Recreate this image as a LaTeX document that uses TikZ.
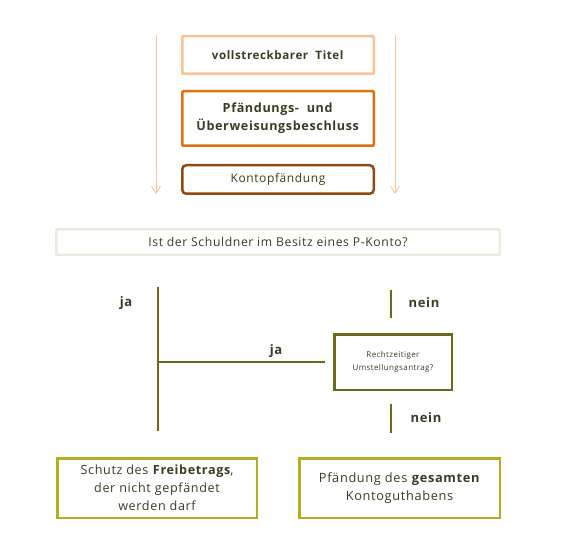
\documentclass[tikz,border=0pt]{standalone}
\usepackage{fontspec}
\setmainfont{Open Sans}[LetterSpace=5]
\usetikzlibrary{positioning, arrows.meta, calc}
\definecolor{peach}{HTML}{F9C493}
\definecolor{orng}{HTML}{E2700F}
\definecolor{rust}{HTML}{8E4A12}
\definecolor{sand}{HTML}{ECE9DE}
\definecolor{olive}{HTML}{6E6A1C}
\definecolor{lime}{HTML}{B2B01E}
\definecolor{ink}{HTML}{3E3A22}

\begin{document}
\begin{tikzpicture}[
  x=1pt, y=-1pt,
  font=\fontsize{12}{16}\selectfont, text=ink,
  box/.style={draw, line width=2.5pt, fill=white, align=center,
              inner sep=2pt, rounded corners=1pt},
  flow/.style={draw=peach, line width=0.8pt, -{Straight Barb[length=7pt, width=9pt]}},
  branch/.style={draw=olive, line width=1.1pt},
  lbl/.style={font=\fontsize{13}{15}\selectfont\bfseries}
]
\useasboundingbox (0,0) rectangle (566,543);

% Kette der Pfaendung
\node[box, draw=peach, minimum width=191.5pt, minimum height=37.5pt,
      font=\fontsize{11.6}{16}\selectfont] (titel) at (278,55)
  {\textbf{vollstreckbarer\ \ Titel}};
\node[box, draw=orng, minimum width=191.5pt, minimum height=54.5pt,
      font=\fontsize{12.6}{18}\selectfont] (beschluss) at (278,118.5)
  {\textbf{Pfändungs-\ \ und}\\\textbf{Überweisungsbeschluss}};
\node[box, draw=rust, rounded corners=4pt, minimum width=191.5pt, minimum height=28.5pt,
      font=\fontsize{12}{16}\selectfont] (konto) at (278,179.5)
  {Kontopfändung};

\coordinate (lstart) at (156,35);
\coordinate (lend)   at (156,194);
\coordinate (rstart) at (395,35);
\coordinate (rend)   at (395,194);
\draw[flow] (lstart) -- (lend);
\draw[flow] (rstart) -- (rend);

% Frage nach dem P-Konto
\node[box, draw=sand, minimum width=443.5pt, minimum height=25.5pt,
      font=\fontsize{12.2}{14}\selectfont] (frage) at (278,242)
  {Ist der Schuldner im Besitz eines P-Konto?};

\node[box, draw=olive, rounded corners=0pt, minimum width=117.5pt, minimum height=55.5pt,
      font=\fontsize{8}{13.5}\selectfont] (antrag) at (393,362)
  {Rechtzeitiger\\Umstellungsantrag?};

% Ergebnisse
\node[box, draw=lime, rounded corners=0pt, minimum width=199.5pt, minimum height=59.5pt,
      font=\fontsize{12.6}{18}\selectfont] (schutz) at (157,488)
  {Schutz des \textbf{Freibetrags},\\der nicht gepfändet\\werden darf};
\node[box, draw=lime, rounded corners=0pt, minimum width=200.5pt, minimum height=59.5pt,
      font=\fontsize{12.8}{17.5}\selectfont] (gesamt) at (399.5,488)
  {Pfändung des \textbf{gesamten}\\Kontoguthabens};

% Verzweigungen
\coordinate (jatop) at (158,287);
\coordinate (jabot) at (158,431);
\draw[branch] (jatop) -- (jabot);
\draw[branch] (jatop |- antrag) -- ([xshift=-8pt]antrag.west);
\coordinate (n1top) at (391,290);
\coordinate (n1bot) at (391,318);
\draw[branch] (n1top) -- (n1bot);
\coordinate (n2top) at (391,404);
\coordinate (n2bot) at (391,433);
\draw[branch] (n2top) -- (n2bot);

\node[lbl] (ja1)   at (126,303) {ja};
\node[lbl] (nein1) at (424,303) {nein};
\node[lbl] (ja2)   at (276,351) {ja};
\node[lbl] (nein2) at (426,418) {nein};
\end{tikzpicture}
\end{document}
